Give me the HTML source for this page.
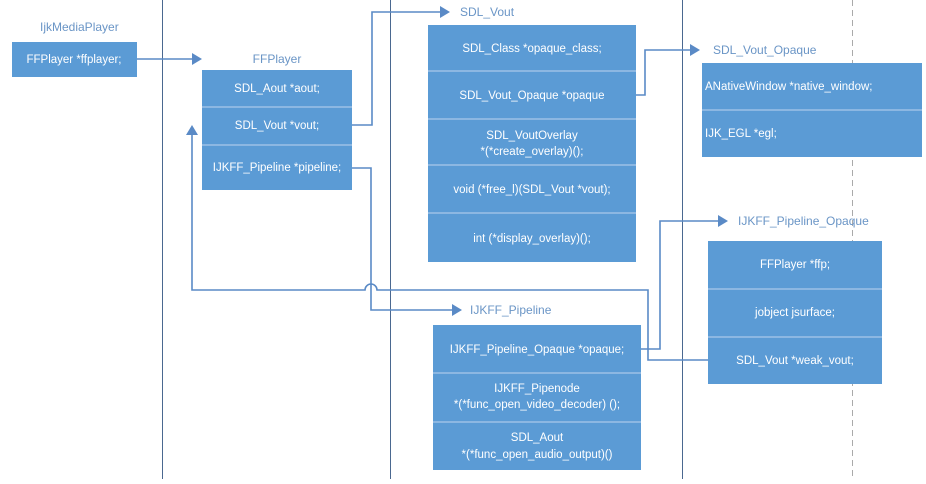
<!DOCTYPE html>
<html><head><meta charset="utf-8"><style>
html,body{margin:0;padding:0;background:#fff;}
svg text{font-family:"Liberation Sans",sans-serif;}
.b{fill:#5b9bd5;}
.d{stroke:#a9c8ea;stroke-width:1.2;}
.t{fill:#fff;font-size:11.5px;text-anchor:middle;}
.tl{fill:#fff;font-size:11.5px;}
.l{fill:#6a95c6;font-size:12px;}
.c{stroke:#5a8ac6;stroke-width:1.6;fill:none;}
.a{fill:#5a8ac6;}
</style></head><body>
<svg width="926" height="479" xmlns="http://www.w3.org/2000/svg">
<rect width="926" height="479" fill="#fff"/>
<line x1="162.5" y1="0" x2="162.5" y2="479" stroke="#4a6890" stroke-width="1"/>
<line x1="390.5" y1="0" x2="390.5" y2="479" stroke="#4a6890" stroke-width="1"/>
<line x1="682.5" y1="0" x2="682.5" y2="479" stroke="#4a6890" stroke-width="1"/>
<line x1="852.5" y1="0" x2="852.5" y2="479" stroke="#aaa" stroke-width="1" stroke-dasharray="6,4"/>

<!-- IjkMediaPlayer -->
<text class="l" x="40" y="31">IjkMediaPlayer</text>
<rect class="b" x="12" y="42" width="125" height="35"/>
<text class="t" x="74" y="63">FFPlayer *ffplayer;</text>
<path class="c" d="M137 59 H192"/><polygon class="a" points="192,53 202,59 192,65"/>

<!-- FFPlayer -->
<text class="l" x="277" y="63" text-anchor="middle">FFPlayer</text>
<rect class="b" x="202" y="70" width="150" height="120"/>
<line class="d" x1="202" y1="107" x2="352" y2="107"/>
<line class="d" x1="202" y1="145" x2="352" y2="145"/>
<text class="t" x="277" y="92">SDL_Aout *aout;</text>
<text class="t" x="277" y="129">SDL_Vout *vout;</text>
<text class="t" x="277" y="171">IJKFF_Pipeline *pipeline;</text>

<!-- connectors -->
<path class="c" d="M352 125 H372 V12 H440"/><polygon class="a" points="440,6 450,12 440,18"/>
<path class="c" d="M352 168 H371 V310 H452"/><polygon class="a" points="452,304 462,310 452,316"/>
<path class="c" d="M192 135 V290 H365 A6 6 0 0 1 377 290 H648 V360 H708"/>
<polygon class="a" points="186,135 192,125 198,135"/>
<path class="c" d="M641 349 H660 V221 H718"/><polygon class="a" points="718,215 728,221 718,227"/>
<path class="c" d="M636 95 H645 V50 H690"/><polygon class="a" points="690,44 700,50 690,56"/>

<!-- SDL_Vout -->
<text class="l" x="460" y="16">SDL_Vout</text>
<rect class="b" x="428" y="25" width="208" height="237"/>
<line class="d" x1="428" y1="71" x2="636" y2="71"/>
<line class="d" x1="428" y1="119" x2="636" y2="119"/>
<line class="d" x1="428" y1="165" x2="636" y2="165"/>
<line class="d" x1="428" y1="213" x2="636" y2="213"/>
<text class="t" x="532" y="52">SDL_Class   *opaque_class;</text>
<text class="t" x="532" y="99">SDL_Vout_Opaque *opaque</text>
<text class="t" x="532" y="139">SDL_VoutOverlay</text>
<text class="t" x="532" y="155">*(*create_overlay)();</text>
<text class="t" x="532" y="193">void (*free_l)(SDL_Vout *vout);</text>
<text class="t" x="532" y="242">int (*display_overlay)();</text>

<!-- SDL_Vout_Opaque -->
<text class="l" x="713" y="54">SDL_Vout_Opaque</text>
<rect class="b" x="702" y="63" width="220" height="94"/>
<line class="d" x1="702" y1="110" x2="922" y2="110"/>
<text class="tl" x="705" y="90">ANativeWindow   *native_window;</text>
<text class="tl" x="705" y="137">IJK_EGL       *egl;</text>

<!-- IJKFF_Pipeline_Opaque -->
<text class="l" x="738" y="225">IJKFF_Pipeline_Opaque</text>
<rect class="b" x="708" y="241" width="174" height="143"/>
<line class="d" x1="708" y1="289" x2="882" y2="289"/>
<line class="d" x1="708" y1="337" x2="882" y2="337"/>
<text class="t" x="795" y="268">FFPlayer     *ffp;</text>
<text class="t" x="795" y="316">jobject      jsurface;</text>
<text class="t" x="795" y="364">SDL_Vout     *weak_vout;</text>

<!-- IJKFF_Pipeline -->
<text class="l" x="470" y="314">IJKFF_Pipeline</text>
<rect class="b" x="433" y="325" width="208" height="145"/>
<line class="d" x1="433" y1="373" x2="641" y2="373"/>
<line class="d" x1="433" y1="422" x2="641" y2="422"/>
<text class="t" x="537" y="353">IJKFF_Pipeline_Opaque *opaque;</text>
<text class="t" x="537" y="392">IJKFF_Pipenode</text>
<text class="t" x="537" y="408">*(*func_open_video_decoder) ();</text>
<text class="t" x="537" y="441">SDL_Aout</text>
<text class="t" x="537" y="458">*(*func_open_audio_output)()</text>
</svg>
</body></html>
